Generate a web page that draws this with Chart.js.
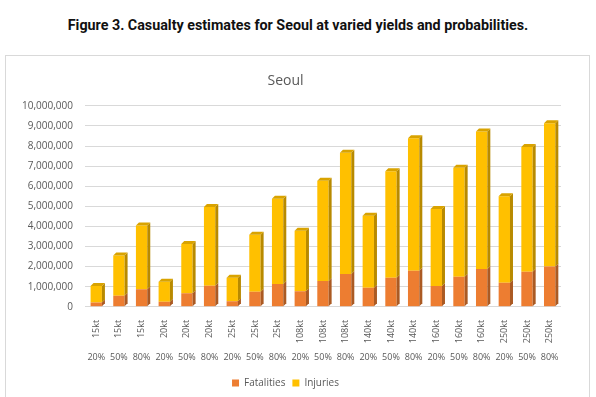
<!DOCTYPE html>
<html>
<head>
<meta charset="utf-8">
<script src="https://cdn.jsdelivr.net/npm/chart.js@4.4.1/dist/chart.umd.min.js"></script>
<style>
  html, body { margin: 0; padding: 0; background: #ffffff; width: 596px; height: 397px; overflow: hidden; }
  #heading { position: absolute; left: 0; top: 17px; width: 596px; text-align: center;
    font-family: Roboto, "Noto Sans", sans-serif; font-weight: bold; font-size: 14.3px; color: #111111; }
  #box { position: absolute; left: 5px; top: 55px; width: 583px; height: 345px; border: 1px solid #d9d9d9; }
  #c { display: block; }
</style>
</head>
<body>
<div id="heading">Figure 3. Casualty estimates for Seoul at varied yields and probabilities.</div>
<div id="box"><canvas id="c" width="583" height="345"></canvas></div>
<script>
const yields = ["15kt","15kt","15kt","20kt","20kt","20kt","25kt","25kt","25kt","108kt","108kt","108kt","140kt","140kt","140kt","160kt","160kt","160kt","250kt","250kt","250kt"];
const probabilities = ["20%","50%","80%","20%","50%","80%","20%","50%","80%","20%","50%","80%","20%","50%","80%","20%","50%","80%","20%","50%","80%"];
const fatalities = [220000, 550000, 870000, 250000, 670000, 1050000, 280000, 750000, 1130000, 780000, 1280000, 1630000, 950000, 1450000, 1800000, 1030000, 1500000, 1880000, 1200000, 1750000, 2000000];
const injuries = [810000, 2000000, 3180000, 1000000, 2450000, 3920000, 1170000, 2830000, 4240000, 3000000, 4990000, 6040000, 3580000, 5300000, 6580000, 3840000, 5420000, 6840000, 4300000, 6200000, 7130000];
const yTicks = { min: 0, max: 10000000, step: 1000000 };

const tickFont = { family: "'Open Sans', sans-serif", size: 10 };
const xFont = { family: "'Open Sans', sans-serif", size: 9 };
const gray = "#595959";

function shade(hex, f) {
  const n = parseInt(hex.slice(1), 16);
  const r = Math.round(((n >> 16) & 255) * f), g = Math.round(((n >> 8) & 255) * f), b = Math.round((n & 255) * f);
  return `rgb(${r},${g},${b})`;
}

const depthPlugin = {
  id: "depth",
  afterDatasetsDraw(chart) {
    const ctx = chart.ctx;
    const d = 3;
    const nSets = chart.data.datasets.length;
    chart.data.datasets.forEach((ds, di) => {
      const meta = chart.getDatasetMeta(di);
      meta.data.forEach((bar) => {
        const p = bar.getProps(["x", "y", "base", "width"], true);
        const left = p.x - p.width / 2, right = p.x + p.width / 2;
        ctx.save();
        ctx.fillStyle = shade(ds.backgroundColor, 0.72);
        ctx.beginPath();
        ctx.moveTo(right, p.y);
        ctx.lineTo(right + d, p.y - d);
        ctx.lineTo(right + d, p.base - d);
        ctx.lineTo(right, p.base);
        ctx.closePath();
        ctx.fill();
        if (di === nSets - 1) {
          ctx.fillStyle = shade(ds.backgroundColor, 0.85);
          ctx.beginPath();
          ctx.moveTo(left, p.y);
          ctx.lineTo(left + d, p.y - d);
          ctx.lineTo(right + d, p.y - d);
          ctx.lineTo(right, p.y);
          ctx.closePath();
          ctx.fill();
        }
        ctx.restore();
      });
    });
  }
};

new Chart(document.getElementById("c"), {
  type: "bar",
  data: {
    labels: yields,
    datasets: [
      { label: "Fatalities", data: fatalities, backgroundColor: "#ED7D31", barPercentage: 0.5, categoryPercentage: 1.0 },
      { label: "Injuries", data: injuries, backgroundColor: "#FFC000", barPercentage: 0.5, categoryPercentage: 1.0 }
    ]
  },
  options: {
    responsive: false,
    animation: false,
    layout: { padding: { left: 4, right: 28, top: 9, bottom: 3 } },
    plugins: {
      title: { display: true, text: "Seoul", color: gray, font: { family: "'Open Sans', sans-serif", size: 14, weight: "normal" }, padding: { top: 8, bottom: 16 } },
      legend: {
        position: "bottom",
        labels: { color: gray, font: tickFont, boxWidth: 7, boxHeight: 7, padding: 7 }
      },
      tooltip: { enabled: false }
    },
    scales: {
      x: {
        stacked: true,
        offset: true,
        grid: { display: false },
        border: { display: false },
        ticks: { color: gray, font: xFont, minRotation: 90, maxRotation: 90, padding: 5 }
      },
      x2: {
        type: "category",
        labels: probabilities,
        position: "bottom",
        offset: true,
        grid: { display: false },
        border: { display: false },
        ticks: { color: gray, font: xFont, maxRotation: 0, minRotation: 0, autoSkip: false, padding: -4 },
        afterFit: (scale) => { scale.height += 12; }
      },
      y: {
        stacked: true,
        min: yTicks.min,
        max: yTicks.max,
        grid: { color: "#d9d9d9", drawTicks: false },
        border: { display: false },
        ticks: {
          stepSize: yTicks.step,
          color: gray,
          font: tickFont,
          padding: 12,
          callback: (v) => v.toLocaleString("en-US")
        }
      }
    }
  },
  plugins: [depthPlugin]
});
</script>
</body>
</html>
